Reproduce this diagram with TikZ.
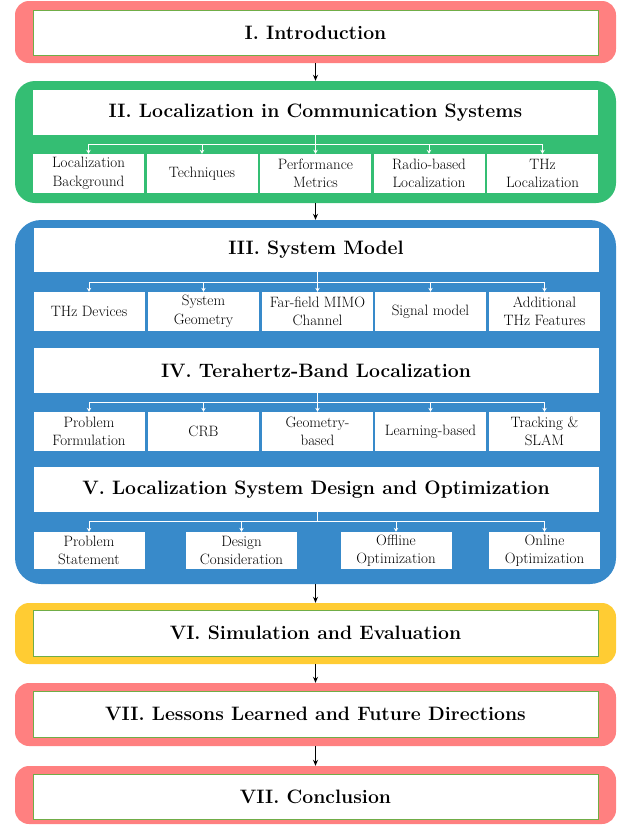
\documentclass[tikz,border=0pt]{standalone}
\usepackage{tikz}
\usetikzlibrary{arrows.meta}

\definecolor{secred}{RGB}{255,128,128}
\definecolor{secgreen}{RGB}{52,190,115}
\definecolor{secblue}{RGB}{56,138,202}
\definecolor{secyellow}{RGB}{255,204,51}
\definecolor{framegreen}{RGB}{112,173,71}

\begin{document}
\begin{tikzpicture}[x=1pt,y=-1pt]
        \tikzstyle{outer}=[rounded corners=14pt, inner sep=0pt, minimum width=601pt]
        \tikzstyle{title}=[fill=white, draw=framegreen, line width=0.6pt, inner sep=0pt, minimum width=565pt, minimum height=45pt, font=\fontsize{19.4}{23}\selectfont\bfseries]
        \tikzstyle{sub}=[fill=white, inner sep=0pt, minimum width=111pt, minimum height=39pt, align=center, font=\fontsize{15}{18.5}\selectfont]
        \tikzstyle{flow}=[-{Stealth[length=6pt,width=5pt]}, line width=1.2pt]
        \tikzstyle{branch}=[white, line width=1pt, -{Stealth[length=4pt,width=4.5pt]}]

        \useasboundingbox (0,0) rectangle (621,825);

        % outer frames
        \node[outer, fill=secred, minimum height=62pt] (o1) at (315.5,32) {};
        \node[outer, fill=secgreen, minimum height=122pt, rounded corners=20pt] (o2) at (315.5,142) {};
        \node[outer, fill=secblue, minimum height=364pt, rounded corners=26pt] (o3) at (315.5,402) {};
        \node[outer, fill=secyellow, minimum height=61pt] (o4) at (315.5,633.5) {};
        \node[outer, fill=secred, minimum height=63pt] (o5) at (315.5,714.5) {};
        \node[outer, fill=secred, minimum height=58pt] (o6) at (315.5,795) {};

        % section titles
        \node[title] (t1) at (315.5,33) {I. Introduction};
        \node[title, draw=none] (t2) at (315.5,112.5) {II. Localization in Communication Systems};
        \node[title, draw=none, minimum height=44pt] (t3) at (316,250) {III. System Model};
        \node[title, draw=none] (t4) at (316,370.5) {IV. Terahertz-Band Localization};
        \node[title, draw=none] (t5) at (316,489.5) {V. Localization System Design and Optimization};
        \node[title, minimum height=46pt] (t6) at (315.5,633) {VI. Simulation and Evaluation};
        \node[title, minimum height=46pt] (t7) at (315.5,714) {VII. Lessons Learned and Future Directions};
        \node[title] (t8) at (315.5,796.5) {VII. Conclusion};

        % subsections
        \node[sub] (s21) at (88.5,173.5) {Localization\\Background};
        \node[sub] (s22) at (202,173.5) {Techniques};
        \node[sub] (s23) at (315.5,173.5) {Performance\\Metrics};
        \node[sub] (s24) at (429,173.5) {Radio-based\\Localization};
        \node[sub] (s25) at (542.5,173.5) {THz\\Localization};

        \node[sub] (s31) at (89,311.5) {THz Devices};
        \node[sub] (s32) at (203.5,311.5) {System\\Geometry};
        \node[sub] (s33) at (317.5,311.5) {Far-field MIMO\\Channel};
        \node[sub] (s34) at (430.5,311.5) {Signal model};
        \node[sub] (s35) at (544.5,311.5) {Additional\\THz Features};

        \node[sub] (s41) at (89,431.5) {Problem\\Formulation};
        \node[sub] (s42) at (203.5,431.5) {CRB};
        \node[sub] (s43) at (317.5,431.5) {Geometry-\\based};
        \node[sub] (s44) at (430.5,431.5) {Learning-based};
        \node[sub] (s45) at (544.5,431.5) {Tracking \&\\SLAM};

        \node[sub, minimum height=37pt] (s51) at (89,550.5) {Problem\\Statement};
        \node[sub, minimum height=37pt] (s52) at (241.5,550.5) {Design\\Consideration};
        \node[sub, minimum height=37pt] (s53) at (396,550.5) {Offline\\Optimization};
        \node[sub, minimum height=37pt] (s54) at (544.5,550.5) {Online\\Optimization};

        % branches
        \foreach \s in {s21,s22,s23,s24,s25}
            \draw[branch] (t2.south) -- ++(0,9) -| (\s.north);
        \foreach \s in {s31,s32,s33,s34,s35}
            \draw[branch] (t3.south -| s33) -- ++(0,10) -| (\s.north);
        \foreach \s in {s41,s42,s43,s44,s45}
            \draw[branch] (t4.south -| s43) -- ++(0,9) -| (\s.north);
        \foreach \s in {s51,s52,s53,s54}
            \draw[branch] (t5.south -| s33) -- ++(0,9) -| (\s.north);

        % flow between sections
        \draw[flow] (o1.south) -- (o2.north);
        \draw[flow] (o2.south) -- (o3.north);
        \draw[flow] (o3.south) -- (o4.north);
        \draw[flow] (o4.south) -- (o5.north);
        \draw[flow] (o5.south) -- (o6.north);

\end{tikzpicture}
\end{document}
